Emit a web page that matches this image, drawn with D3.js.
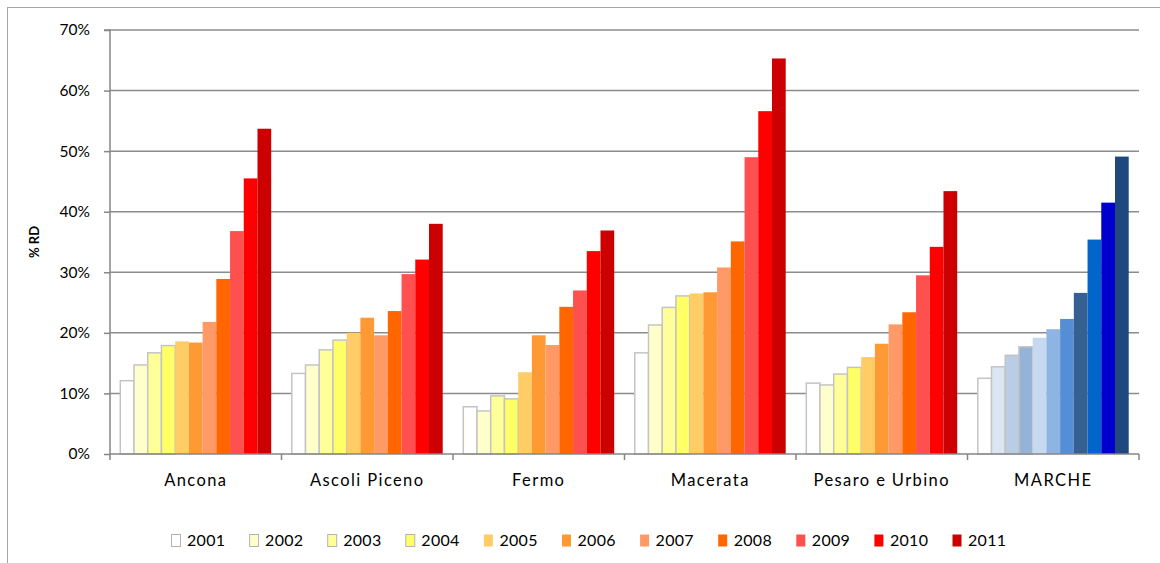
<!DOCTYPE html>
<html>
<head>
<meta charset="utf-8">
<script src="https://cdn.jsdelivr.net/npm/d3@7"></script>
<style>
  html, body { margin: 0; padding: 0; background: #fff; }
  svg { display: block; }
  text { font-family: Lato, "Open Sans", "Liberation Sans", sans-serif; fill: #000; }
</style>
</head>
<body>
<svg id="chart" width="1160" height="563"></svg>
<script>
// Percentuale di raccolta differenziata per provincia, 2001-2011
const categories = ["Ancona", "Ascoli Piceno", "Fermo", "Macerata", "Pesaro e Urbino", "MARCHE"];
const years = ["2001", "2002", "2003", "2004", "2005", "2006", "2007", "2008", "2009", "2010", "2011"];

// one array per year, values in % for each category (same order as categories)
const rd2001 = [12.1, 13.3, 7.8, 16.7, 11.7, 12.5];
const rd2002 = [14.7, 14.7, 7.1, 21.3, 11.4, 14.4];
const rd2003 = [16.7, 17.2, 9.6, 24.2, 13.2, 16.3];
const rd2004 = [17.9, 18.8, 9.1, 26.1, 14.3, 17.7];
const rd2005 = [18.6, 20.0, 13.5, 26.5, 16.0, 19.2];
const rd2006 = [18.4, 22.5, 19.6, 26.7, 18.2, 20.6];
const rd2007 = [21.8, 19.6, 18.0, 30.8, 21.4, 22.3];
const rd2008 = [28.9, 23.6, 24.3, 35.1, 23.4, 26.6];
const rd2009 = [36.8, 29.7, 27.0, 49.0, 29.5, 35.4];
const rd2010 = [45.5, 32.1, 33.5, 56.6, 34.2, 41.5];
const rd2011 = [53.7, 38.0, 36.9, 65.3, 43.4, 49.1];
const seriesValues = [rd2001, rd2002, rd2003, rd2004, rd2005, rd2006, rd2007, rd2008, rd2009, rd2010, rd2011];

const yTicks = [0, 10, 20, 30, 40, 50, 60, 70];

// warm palette for the provinces, blue palette for the regional total
const provinceColors = ["#ffffff", "#ffffcc", "#ffff99", "#ffff66", "#ffcc66", "#ff9933",
                        "#ff9966", "#ff6600", "#ff5050", "#ff0000", "#cc0000"];
const regionColors = ["#ffffff", "#dce6f2", "#b9cde5", "#95b3d7", "#c6d9f1", "#8eb4e3",
                      "#558ed5", "#376092", "#0066cc", "#0000cc", "#1f497d"];
const outlinedYears = 4; // first years drawn with a grey outline

const svg = d3.select("#chart");

// outer frame of the chart
svg.append("rect")
  .attr("x", 7.5).attr("y", 7.5)
  .attr("width", 1200).attr("height", 600)
  .attr("fill", "none").attr("stroke", "#a6a6a6").attr("stroke-width", 1);

const plot = { left: 110, right: 1139, top: 30, bottom: 454 };

const x0 = d3.scaleBand().domain(categories)
  .range([plot.left, plot.right]).paddingInner(0.12).paddingOuter(0.06);
const x1 = d3.scaleBand().domain(years).range([0, x0.bandwidth()]).padding(0);
const y = d3.scaleLinear().domain([0, 70]).range([plot.bottom, plot.top]);

// horizontal gridlines
svg.append("g").selectAll("line").data(yTicks.filter(d => d > 0)).join("line")
  .attr("x1", plot.left).attr("x2", plot.right)
  .attr("y1", d => y(d)).attr("y2", d => y(d))
  .attr("stroke", "#8c8c8c").attr("stroke-width", 1.5);

// bars
const groups = svg.append("g").selectAll("g").data(categories).join("g")
  .attr("transform", c => `translate(${x0(c)},0)`);

groups.each(function (cat, ci) {
  const palette = cat === "MARCHE" ? regionColors : provinceColors;
  d3.select(this).selectAll("rect").data(years).join("rect")
    .attr("x", (yr) => x1(yr))
    .attr("width", x1.bandwidth())
    .attr("y", (yr, i) => y(seriesValues[i][ci]))
    .attr("height", (yr, i) => y(0) - y(seriesValues[i][ci]))
    .attr("fill", (yr, i) => palette[i])
    .attr("stroke", (yr, i) => i < outlinedYears ? "#c4c4c4" : "none")
    .attr("stroke-width", 1.5);
});

// y axis
const yAxis = d3.axisLeft(y).tickValues(yTicks).tickFormat(d => d + "%")
  .tickSize(6).tickPadding(14);
const gy = svg.append("g").attr("transform", `translate(${plot.left},0)`).call(yAxis);
gy.select(".domain").attr("stroke", "#868686").attr("stroke-width", 1.5).attr("d", `M-6,${plot.top}H0V${plot.bottom}`);
gy.selectAll(".tick line").attr("stroke", "#868686").attr("stroke-width", 1.5);
gy.selectAll(".tick text").style("font-size", "15.5px").attr("fill", "#000");

// x axis line with ticks at category boundaries
svg.append("line")
  .attr("x1", plot.left).attr("x2", plot.right)
  .attr("y1", plot.bottom).attr("y2", plot.bottom)
  .attr("stroke", "#868686").attr("stroke-width", 1.5);
const step = x0.step();
const bounds = d3.range(categories.length + 1).map(i => plot.left + i * step);
svg.append("g").selectAll("line").data(bounds).join("line")
  .attr("x1", d => d).attr("x2", d => d)
  .attr("y1", plot.bottom).attr("y2", plot.bottom + 6)
  .attr("stroke", "#868686").attr("stroke-width", 1.5);

svg.append("g").selectAll("text").data(categories).join("text")
  .attr("x", c => x0(c) + x0.bandwidth() / 2)
  .attr("y", 486)
  .attr("text-anchor", "middle")
  .style("font-size", "16.5px")
  .style("letter-spacing", "1.4px")
  .text(c => c);

// y axis title
svg.append("text")
  .attr("transform", `translate(39,${(plot.top + plot.bottom) / 2}) rotate(-90)`)
  .attr("text-anchor", "middle")
  .style("font-size", "13px").style("font-weight", "bold")
  .text("% RD");

// legend
const legend = svg.append("g").attr("transform", "translate(171,0)");
const item = legend.selectAll("g").data(years).join("g")
  .attr("transform", (d, i) => `translate(${i * 78.1},0)`);
item.append("rect")
  .attr("x", 0.5).attr("y", 534.5).attr("width", 9).attr("height", 12)
  .attr("fill", (d, i) => provinceColors[i])
  .attr("stroke", (d, i) => i < outlinedYears ? "#b4b4b4" : "none")
  .attr("stroke-width", 1);
item.append("text")
  .attr("x", 16).attr("y", 546)
  .style("font-size", "16px")
  .style("letter-spacing", "0.3px")
  .text(d => d);
</script>
</body>
</html>
